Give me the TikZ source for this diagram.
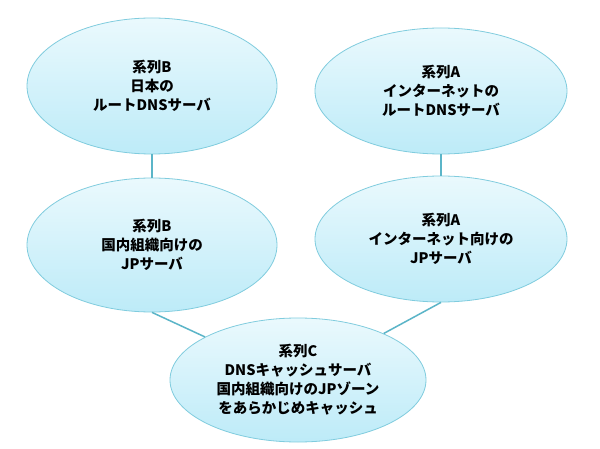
\documentclass[tikz,border=0pt]{standalone}
\usepackage{fontspec}
\newfontfamily\jp{Noto Sans CJK JP}
\usetikzlibrary{shapes.geometric}
\definecolor{linkc}{HTML}{5BB5C8}
\definecolor{bordc}{HTML}{80CCDE}
\definecolor{topc}{HTML}{EAF9FD}
\definecolor{botc}{HTML}{BDEBF8}
\tikzset{
  bubble/.style={ellipse, draw=bordc, line width=0.8pt, top color=topc, bottom color=botc,
    inner sep=0pt, align=center, font=\jp\bfseries\fontsize{14.5}{19}\selectfont},
  link/.style={draw=linkc, line width=1.5pt}
}
\begin{document}
\begin{tikzpicture}[x=1pt,y=-1pt]
\useasboundingbox[fill=white] (0,0) rectangle (600,449);
\node[bubble, minimum width=250pt, minimum height=136pt] (e1) at (152,86) {系列B\\日本の\\ルートDNSサーバ};
\node[bubble, minimum width=252pt, minimum height=126pt] (e2) at (441,91) {系列A\\インターネットの\\ルートDNSサーバ};
\node[bubble, minimum width=250pt, minimum height=134pt] (e3) at (152,245) {系列B\\国内組織向けの\\JPサーバ};
\node[bubble, minimum width=252pt, minimum height=126pt] (e4) at (441,239) {系列A\\インターネット向けの\\JPサーバ};
\node[bubble, minimum width=256pt, minimum height=124pt] (e5) at (298,380) {系列C\\DNSキャッシュサーバ\\国内組織向けのJPゾーン\\をあらかじめキャッシュ};
\begin{scope}[on background layer/.try]
\end{scope}
\draw[link] (e1.south) -- (e3.north);
\draw[link] (e2.south) -- (e4.north);
\draw[link] (e3.south) -- (e5);
\draw[link] (e4.south) -- (e5);
\end{tikzpicture}
\end{document}
